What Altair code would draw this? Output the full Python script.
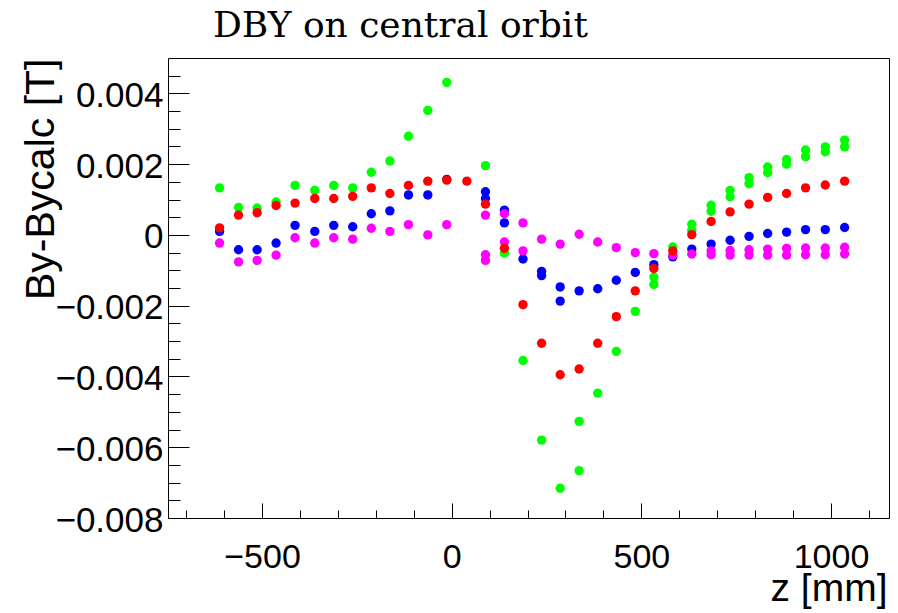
import altair as alt
import pandas as pd

# ---- data (z in mm, By-Bycalc in T) ----
green_z = [-612, -562, -513, -463, -413, -361, -311, -261, -212, -163, -114, -63, -13,
           89, 139, 188, 237, 286, 336, 336, 385, 434, 484, 533, 533, 583,
           633, 633, 684, 684, 734, 734, 784, 784, 833, 833, 883, 883, 933, 933, 985, 985, 1036, 1036]
green_by = [0.00133, 0.00078, 0.00076, 0.00093, 0.00140, 0.00126, 0.00140, 0.00133, 0.00177, 0.00209,
            0.00279, 0.00352, 0.00431, 0.00196, -0.00051, -0.00355, -0.00580, -0.00716, -0.00527, -0.00666,
            -0.00447, -0.00329, -0.00216, -0.00119, -0.00140, -0.00034, 0.00030, 0.00013, 0.00084, 0.00067,
            0.00126, 0.00108, 0.00162, 0.00145, 0.00192, 0.00176, 0.00213, 0.00200, 0.00240, 0.00221,
            0.00249, 0.00235, 0.00268, 0.00249]

red_z = [-612, -562, -513, -463, -413, -361, -311, -261, -212, -163, -114, -63, -13, 40,
         89, 139, 188, 237, 286, 336, 385, 434, 484, 533, 583, 633, 684, 734, 784, 833, 883, 933, 985, 1036]
red_by = [0.00020, 0.00056, 0.00063, 0.00083, 0.00090, 0.00103, 0.00103, 0.00109, 0.00133, 0.00117,
          0.00140, 0.00152, 0.00155, 0.00152, 0.00087, -0.00038, -0.00197, -0.00306, -0.00395, -0.00379,
          -0.00306, -0.00231, -0.00158, -0.00095, -0.00045, 0.00001, 0.00038, 0.00065, 0.00087, 0.00106,
          0.00117, 0.00133, 0.00141, 0.00152]

blue_z = [-612, -562, -513, -463, -413, -361, -311, -261, -212, -163, -114, -63, -13,
          89, 89, 139, 139, 188, 237, 237, 286, 286, 336, 385, 434, 484, 533, 583, 633, 684,
          734, 784, 833, 883, 933, 985, 1036]
blue_by = [0.00010, -0.00042, -0.00042, -0.00023, 0.00027, 0.00010, 0.00027, 0.00023, 0.00060, 0.00068,
           0.00113, 0.00113, 0.00157, 0.00122, 0.00103, 0.00070, 0.00034, -0.00068, -0.00103, -0.00115,
           -0.00147, -0.00187, -0.00158, -0.00152, -0.00128, -0.00106, -0.00084, -0.00062, -0.00040, -0.00026,
           -0.00015, -0.00004, 0.00004, 0.00008, 0.00015, 0.00015, 0.00021]

magenta_z = [-612, -562, -513, -463, -413, -361, -311, -261, -212, -163, -114, -63, -13,
             89, 89, 89, 139, 139, 188, 188, 237, 286, 336, 385, 434, 484, 533, 583, 633,
             684, 684, 734, 734, 784, 784, 833, 833, 883, 883, 933, 933, 985, 985, 1036, 1036]
magenta_by = [-0.00023, -0.00076, -0.00072, -0.00057, -0.00008, -0.00023, -0.00008, -0.00012, 0.00019, 0.00010,
              0.00029, 0.00000, 0.00029, 0.00056, -0.00056, -0.00072, 0.00060, -0.00020, 0.00034, -0.00045,
              -0.00012, -0.00026, 0.00002, -0.00020, -0.00036, -0.00050, -0.00053, -0.00057, -0.00054,
              -0.00045, -0.00056, -0.00044, -0.00057, -0.00042, -0.00057, -0.00040, -0.00057, -0.00038, -0.00057,
              -0.00037, -0.00056, -0.00037, -0.00056, -0.00035, -0.00054]

series_names = ["green", "blue", "magenta", "red"]
series_colors = ["#00ff00", "#0000ff", "#ff00ff", "#ff0000"]

x_major = [-500, 0, 500, 1000]
x_minor = [-700, -600, -400, -300, -200, -100, 100, 200, 300, 400, 600, 700, 800, 900, 1100]
y_major = [-0.008, -0.006, -0.004, -0.002, 0, 0.002, 0.004]
y_minor = [-0.0075, -0.007, -0.0065, -0.0055, -0.005, -0.0045, -0.0035, -0.003, -0.0025,
           -0.0015, -0.001, -0.0005, 0.0005, 0.001, 0.0015, 0.0025, 0.003, 0.0035, 0.0045]

rows = []
for name, zs, vs in [("green", green_z, green_by), ("blue", blue_z, blue_by),
                     ("magenta", magenta_z, magenta_by), ("red", red_z, red_by)]:
    for z, v in zip(zs, vs):
        rows.append({"series": name, "z": z, "dby": v})
df = pd.DataFrame(rows)
df["order"] = range(len(df))

xs = alt.Scale(domain=[-748, 1153], nice=False, zero=False)
ys = alt.Scale(domain=[-0.008, 0.005], nice=False, zero=False)

SANS = "Liberation Sans"

x_label_axis = alt.Axis(orient="bottom", values=x_major, ticks=False, domain=False, grid=False,
                        labelFont=SANS, labelFontSize=34, labelColor="black",
                        labelBaseline="alphabetic", labelPadding=49, labelFlush=False,
                        labelOverlap=False, labelExpr="format(datum.value, 'd')",
                        title="z [mm]", titleFont=SANS, titleFontSize=39, titleFontWeight="normal",
                        titleColor="black", titleAlign="right", titleBaseline="alphabetic",
                        titleX=719, titleY=82)
y_label_axis = alt.Axis(orient="left", values=y_major, ticks=False, domain=False, grid=False,
                        labelFont=SANS, labelFontSize=35, labelColor="black",
                        labelAlign="right", labelBaseline="alphabetic", labelOffset=13, labelPadding=5,
                        labelFlush=False, labelOverlap=False,
                        labelExpr="datum.value == 0 ? '0' : format(datum.value, '.3f')",
                        title="By-Bycalc [T]", titleFont=SANS, titleFontSize=41, titleFontWeight="normal",
                        titleColor="black", titleAngle=270, titleAlign="right", titleBaseline="alphabetic",
                        titleX=-115, titleY=0)


def tick_axis(orient, values, length):
    return alt.Axis(orient=orient, values=values, ticks=True, tickSize=length, tickColor="black",
                    tickWidth=1, offset=-length, domain=False, grid=False, labels=False, title=None)


points = alt.Chart(df).mark_circle(size=88, opacity=1).encode(
    x=alt.X("z:Q", scale=xs, axis=x_label_axis),
    y=alt.Y("dby:Q", scale=ys, axis=y_label_axis),
    color=alt.Color("series:N", scale=alt.Scale(domain=series_names, range=series_colors), legend=None),
    order=alt.Order("order:Q"),
)

major = alt.Chart(df).mark_circle(opacity=0).encode(
    x=alt.X("z:Q", scale=xs, axis=tick_axis("bottom", x_major, 15)),
    y=alt.Y("dby:Q", scale=ys, axis=tick_axis("left", y_major, 21)),
)
minor = alt.Chart(df).mark_circle(opacity=0).encode(
    x=alt.X("z:Q", scale=xs, axis=tick_axis("bottom", x_minor, 8)),
    y=alt.Y("dby:Q", scale=ys, axis=tick_axis("left", y_minor, 12)),
)

chart = alt.layer(points, major, minor).resolve_axis(x="independent", y="independent").properties(
    width=721,
    height=460,
    autosize=alt.AutoSizeParams(type="none"),
    padding={"left": 168, "top": 58, "right": 9, "bottom": 95},
    background="white",
    title=alt.TitleParams(text="DBY on central orbit", font="DejaVu Serif", fontSize=36,
                          fontWeight="normal", color="black", anchor="start", frame="group",
                          dx=45, offset=-15, baseline="alphabetic"),
).configure_view(stroke="black", strokeWidth=1)

chart.save("out.html", embed_options={"renderer": "svg", "actions": False})
